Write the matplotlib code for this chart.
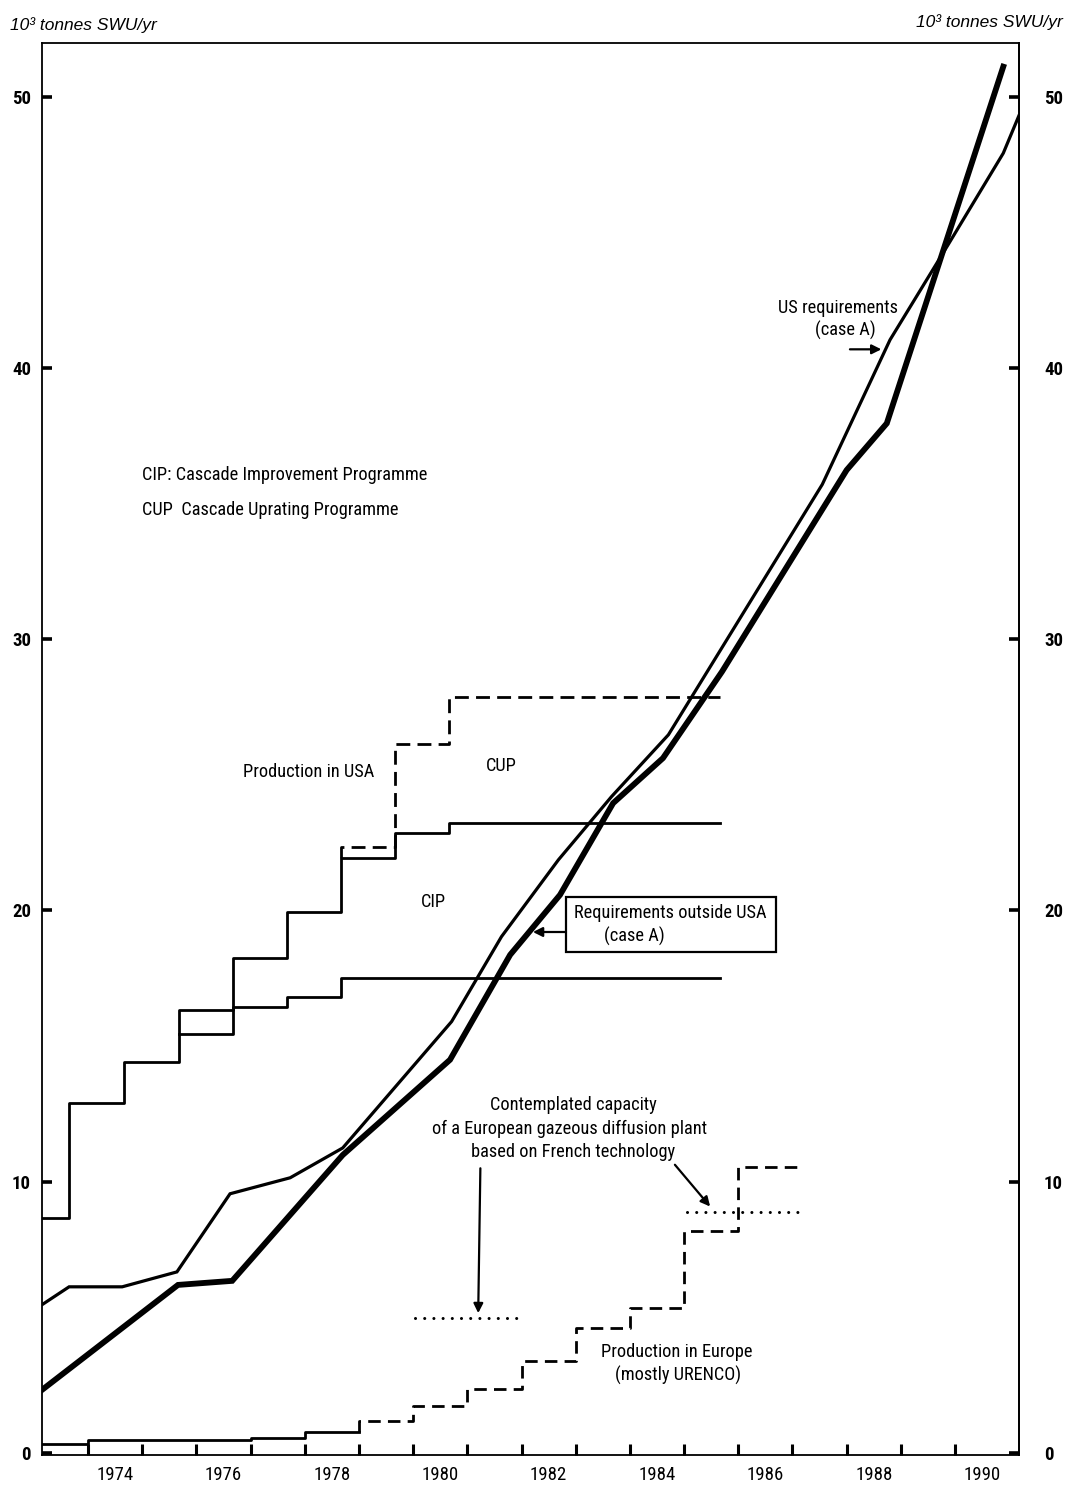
import matplotlib
matplotlib.use("Agg")
import matplotlib.pyplot as plt
import matplotlib.font_manager as fm
from matplotlib.patches import Rectangle

# ---------------- data (10^3 tonnes SWU / yr) ----------------
# Production in USA with Cascade Improvement Programme (step, held until next year value)
usa_cip_years = [1973.15, 1973.65, 1974.67, 1975.67, 1976.67, 1977.67, 1978.67, 1979.67, 1980.67, 1985.66]
usa_cip_vals = [8.66, 12.90, 14.41, 16.33, 18.25, 19.94, 21.93, 22.86, 23.22, 23.22]

# Production in USA without CIP (lower step)
usa_base_years = [1975.67, 1976.67, 1977.67, 1978.67, 1985.66]
usa_base_vals = [15.44, 16.44, 16.81, 17.50, 17.50]

# Production in USA with Cascade Uprating Programme (dashed step)
usa_cup_years = [1978.67, 1978.67, 1979.67, 1980.67, 1985.66]
usa_cup_vals = [21.93, 22.33, 26.13, 27.85, 27.85]

# US requirements (case A) - thin line
us_req_years = [1973.15, 1973.65, 1974.63, 1975.64, 1976.62, 1977.73, 1978.70, 1980.71,
                1981.63, 1982.68, 1983.66, 1984.71, 1987.55, 1988.80, 1989.87, 1990.89, 1991.18]
us_req_vals = [5.46, 6.12, 6.12, 6.67, 9.55, 10.14, 11.24, 15.90,
               19.03, 21.86, 24.19, 26.47, 35.70, 41.03, 44.53, 47.91, 49.30]

# Requirements outside USA (case A) - thick line
out_req_years = [1973.15, 1975.66, 1976.66, 1978.70, 1980.68, 1981.79, 1982.71, 1983.69,
                 1984.61, 1985.70, 1988.00, 1988.74, 1990.89]
out_req_vals = [2.32, 6.19, 6.34, 10.98, 14.49, 18.36, 20.57, 23.95,
                25.61, 28.80, 36.23, 37.95, 51.10]

# Production in Europe (mostly URENCO): solid (actual) then dashed (planned)
eu_solid_years = [1973.15, 1974.0, 1977.0, 1978.0, 1979.0]
eu_solid_vals = [0.34, 0.47, 0.56, 0.76, 0.76]
eu_dash_years = [1979.0, 1979.0, 1980.0, 1981.0, 1982.0, 1983.0, 1984.0, 1985.0, 1986.0, 1987.1]
eu_dash_vals = [0.76, 1.19, 1.74, 2.36, 3.37, 4.60, 5.33, 8.19, 10.53, 10.53]

# Contemplated capacity of European gazeous diffusion plant (dotted)
plant1_years = [1980.03, 1982.03]
plant1_vals = [4.96, 4.96]
plant2_years = [1985.05, 1987.11]
plant2_vals = [8.87, 8.87]

year_ticks = list(range(1974, 1991))
year_labels = ["1974", "1976", "1978", "1980", "1982", "1984", "1986", "1988", "1990"]
y_ticks = [0, 10, 20, 30, 40, 50]
y_labels = ["0", "10", "20", "30", "40", "50"]


# ---------------- fonts ----------------
def pick_font(bold=False):
    prefs = ["Liberation Sans Narrow", "Roboto Condensed", "DejaVu Sans", "Noto Sans",
             "Open Sans", "Lato", "Roboto", "Inter", "Liberation Sans"]
    best = None
    for f in fm.fontManager.ttflist:
        st = str(f.stretch)
        narrow = ("Narrow" in f.name) or ("Condensed" in f.name) or \
            st in ("condensed", "semi-condensed", "extra-condensed", "ultra-condensed")
        if not narrow or f.style != "normal":
            continue
        w = f.weight
        if isinstance(w, str):
            w = fm.weight_dict.get(w, 400)
        if bold and w < 600:
            continue
        if not bold and (w < 350 or w > 500):
            continue
        rank = prefs.index(f.name) if f.name in prefs else len(prefs)
        if best is None or rank < best[0]:
            best = (rank, f.fname)
    if best is not None:
        return fm.FontProperties(fname=best[1]), True
    return fm.FontProperties(family="Liberation Sans",
                             weight="bold" if bold else "normal"), False


FP_REG, NARROW = pick_font(False)
FP_BOLD, NARROW_B = pick_font(True)
if not NARROW_B and NARROW:
    FP_BOLD = FP_REG
SCALE = 1.0 if NARROW else 0.84


def fp(size, bold=False):
    p = (FP_BOLD if bold else FP_REG).copy()
    p.set_size(size * SCALE)
    return p


# ---------------- figure ----------------
fig = plt.figure(figsize=(10.66, 14.85), dpi=100)
ax = fig.add_axes([0.0394, 0.0202, 0.9165, 0.9508])
ax.set_xlim(1973.15, 1991.18)
ax.set_ylim(-0.08, 51.97)
for s in ax.spines.values():
    s.set_linewidth(1.3)

K = "black"
ax.plot(usa_cip_years, usa_cip_vals, drawstyle="steps-post", color=K, lw=2.0)
ax.plot(usa_base_years, usa_base_vals, drawstyle="steps-post", color=K, lw=2.0)
ax.plot(usa_cup_years, usa_cup_vals, drawstyle="steps-post", color=K, lw=2.0,
        linestyle=(0, (5.0, 2.6)))
ax.plot(us_req_years, us_req_vals, color=K, lw=2.3, solid_joinstyle="miter")
ax.plot(out_req_years, out_req_vals, color=K, lw=4.2, solid_joinstyle="miter")
ax.plot(eu_solid_years, eu_solid_vals, drawstyle="steps-post", color=K, lw=2.0)
ax.plot(eu_dash_years, eu_dash_vals, drawstyle="steps-post", color=K, lw=2.0,
        linestyle=(0, (4.5, 2.6)))
ax.plot(plant1_years, plant1_vals, color=K, lw=2.2, linestyle=(0, (0.01, 3.0)),
        dash_capstyle="round")
ax.plot(plant2_years, plant2_vals, color=K, lw=2.2, linestyle=(0, (0.01, 3.0)),
        dash_capstyle="round")

# ---------------- axes ticks ----------------
ax.set_xticks(year_ticks)
ax.set_xticks([int(y) + 0.5 for y in year_labels], minor=True)
ax.set_xticklabels(year_labels, minor=True)
ax.tick_params(axis="x", which="major", direction="in", length=8, width=2.2,
               labelbottom=False)
ax.tick_params(axis="x", which="minor", length=0, pad=8)
for lab in ax.get_xticklabels(minor=True):
    lab.set_fontproperties(fp(13.5))

ax.set_yticks(y_ticks)
ax.set_yticklabels(y_labels)
ax.tick_params(axis="y", direction="in", length=7, width=2.6, pad=8)
for lab in ax.get_yticklabels():
    lab.set_fontproperties(fp(13.5, True))

ax2 = ax.secondary_yaxis("right")
ax2.set_yticks(y_ticks)
ax2.set_yticklabels(y_labels)
ax2.tick_params(axis="y", direction="in", length=7, width=2.6, pad=18)
ax2.spines["right"].set_linewidth(1.3)
for lab in ax2.get_yticklabels():
    lab.set_fontproperties(fp(13.5, True))

# ---------------- units ----------------
fig.text(0.0094, 0.9832, "10³ tonnes SWU/yr", ha="left", va="center",
         family="Liberation Sans", style="italic", fontsize=12.5)
fig.text(0.997, 0.9852, "10³ tonnes SWU/yr", ha="right", va="center",
         family="Liberation Sans", style="italic", fontsize=12.5)

# ---------------- annotations ----------------
T = 13.2
ax.text(1975.0, 36.05, "CIP: Cascade Improvement Programme", ha="left", va="center",
        fontproperties=fp(T))
ax.text(1975.0, 34.76, "CUP  Cascade Uprating Programme", ha="left", va="center",
        fontproperties=fp(T))
ax.text(1978.08, 25.08, "Production in USA", ha="center", va="center", fontproperties=fp(T))
ax.text(1981.63, 25.32, "CUP", ha="center", va="center", fontproperties=fp(T))
ax.text(1980.37, 20.32, "CIP", ha="center", va="center", fontproperties=fp(T))

ax.add_patch(Rectangle((1982.82, 18.48), 3.87, 2.0, fill=False, lw=1.6, ec=K))
ax.text(1984.74, 19.89, "Requirements outside USA", ha="center", va="center",
        fontproperties=fp(T))
ax.text(1984.09, 19.03, "(case A)", ha="center", va="center", fontproperties=fp(T))
arrow = dict(arrowstyle="-|>", lw=1.6, color=K, mutation_scale=14, shrinkA=0, shrinkB=0)
ax.annotate("", xy=(1982.21, 19.2), xytext=(1982.82, 19.2), arrowprops=arrow)

ax.text(1987.84, 42.2, "US requirements", ha="center", va="center", fontproperties=fp(T))
ax.text(1987.97, 41.39, "(case A)", ha="center", va="center", fontproperties=fp(T))
ax.annotate("", xy=(1988.64, 40.68), xytext=(1988.06, 40.68), arrowprops=arrow)

ax.text(1982.95, 12.83, "Contemplated capacity", ha="center", va="center",
        fontproperties=fp(T))
ax.text(1982.89, 11.94, "of a European gazeous diffusion plant", ha="center", va="center",
        fontproperties=fp(T))
ax.text(1982.95, 11.08, "based on French technology", ha="center", va="center",
        fontproperties=fp(T))
ax.annotate("", xy=(1981.2, 5.15), xytext=(1981.24, 10.49), arrowprops=arrow)
ax.annotate("", xy=(1985.48, 9.08), xytext=(1984.83, 10.62), arrowprops=arrow)

ax.text(1984.86, 3.70, "Production in Europe", ha="center", va="center", fontproperties=fp(T))
ax.text(1984.89, 2.84, "(mostly URENCO)", ha="center", va="center", fontproperties=fp(T))

fig.savefig("out.png", dpi=100, facecolor="white")
